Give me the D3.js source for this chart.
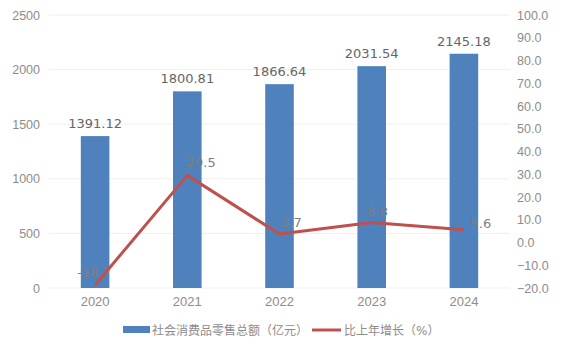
<!DOCTYPE html>
<html>
<head>
<meta charset="utf-8">
<script src="https://cdn.jsdelivr.net/npm/d3@7"></script>
<style>
  body { margin: 0; background: #fff; }
  svg { font-family: "DejaVu Sans", "Noto Sans CJK SC", sans-serif; }
</style>
</head>
<body>
<div id="chart"></div>
<script>
let years = ["2020", "2021", "2022", "2023", "2024"]
let sales = [1391.12, 1800.81, 1866.64, 2031.54, 2145.18]
let growth = [-18.7, 29.5, 3.7, 8.8, 5.6]
let leftTicks = [0, 500, 1000, 1500, 2000, 2500]
let rightTicks = [-20, -10, 0, 10, 20, 30, 40, 50, 60, 70, 80, 90, 100]
let seriesNames = ["社会消费品零售总额（亿元）", "比上年增长（%）"]

// label nudges for the growth line (like Excel's label placement)
let growthLabelOffsets = [[-1, -8], [14, -8], [12, -7], [6, -6], [17, -2]]

const width = 562, height = 352
const margin = {top: 15, right: 52, bottom: 64, left: 49}
const innerW = width - margin.left - margin.right
const innerH = height - margin.top - margin.bottom

const blue = "#4f81bd", red = "#c0504d"

let svg = d3.select("#chart").append("svg")
    .attr("width", width)
    .attr("height", height)
let g = svg.append("g")
    .attr("transform", "translate(" + margin.left + "," + margin.top + ")")

let x = d3.scaleBand().domain(years).range([0, innerW]).paddingInner(0.69).paddingOuter(0.345)
let y = d3.scaleLinear().domain([0, 2500]).range([innerH, 0])
let y2 = d3.scaleLinear().domain([-20, 100]).range([innerH, 0])

// gridlines
g.selectAll(".grid")
    .data(leftTicks)
    .enter()
    .append("line")
        .attr("x1", 0)
        .attr("x2", innerW)
        .attr("y1", d => y(d))
        .attr("y2", d => y(d))
        .attr("stroke", "#efefef")
        .attr("stroke-width", 1)

// left axis
let leftAxis = g.append("g")
    .call(d3.axisLeft(y).tickValues(leftTicks).tickSize(0).tickPadding(9).tickFormat(d3.format("d")))
leftAxis.select(".domain").remove()
leftAxis.selectAll("text")
    .attr("fill", "#8c8c8c")
    .style("font-size", "12.5px")

// right axis
let rightAxis = g.append("g")
    .attr("transform", "translate(" + innerW + ",0)")
    .call(d3.axisRight(y2).tickValues(rightTicks).tickSize(0).tickPadding(7).tickFormat(d3.format(".1f")))
rightAxis.select(".domain").remove()
rightAxis.selectAll("text")
    .attr("fill", "#8c8c8c")
    .style("font-size", "12.5px")

// x axis
let bottomAxis = g.append("g")
    .attr("transform", "translate(0," + innerH + ")")
    .call(d3.axisBottom(x).tickSize(0).tickPadding(9))
bottomAxis.select(".domain").remove()
bottomAxis.selectAll("text")
    .attr("fill", "#8c8c8c")
    .style("font-size", "13px")

// bars
g.selectAll(".bar")
    .data(sales)
    .enter()
    .append("rect")
        .attr("x", (d, i) => x(years[i]))
        .attr("y", d => y(d))
        .attr("width", x.bandwidth())
        .attr("height", d => innerH - y(d))
        .attr("fill", blue)

g.selectAll(".barLabel")
    .data(sales)
    .enter()
    .append("text")
        .attr("x", (d, i) => x(years[i]) + x.bandwidth() / 2)
        .attr("y", d => y(d) - 8)
        .attr("text-anchor", "middle")
        .attr("fill", "#666666")
        .style("font-size", "13px")
        .text(d => d.toFixed(2))

// growth labels sit under the line, like the original
g.selectAll(".lineLabel")
    .data(growth)
    .enter()
    .append("text")
        .attr("x", (d, i) => x(years[i]) + x.bandwidth() / 2 + growthLabelOffsets[i][0])
        .attr("y", (d, i) => y2(d) + growthLabelOffsets[i][1])
        .attr("text-anchor", "middle")
        .attr("fill", "#7f7f7f")
        .style("font-size", "13px")
        .text(d => d.toFixed(1))

// growth line
let line = d3.line()
    .x((d, i) => x(years[i]) + x.bandwidth() / 2)
    .y(d => y2(d))
g.append("path")
    .datum(growth)
    .attr("fill", "none")
    .attr("stroke", red)
    .attr("stroke-width", 3)
    .attr("stroke-linejoin", "round")
    .attr("d", line)

// legend
let legend = svg.append("g").attr("transform", "translate(0,330)")
legend.append("rect")
    .attr("x", 123).attr("y", -4)
    .attr("width", 27).attr("height", 7)
    .attr("fill", blue)
legend.append("text")
    .attr("x", 152).attr("y", 4.5)
    .attr("fill", "#8c8c8c")
    .style("font-size", "12px")
    .text(seriesNames[0])
legend.append("line")
    .attr("x1", 312).attr("x2", 341)
    .attr("y1", 0).attr("y2", 0)
    .attr("stroke", red)
    .attr("stroke-width", 3)
legend.append("text")
    .attr("x", 344).attr("y", 4.5)
    .attr("fill", "#8c8c8c")
    .style("font-size", "12px")
    .text(seriesNames[1])
</script>
</body>
</html>
